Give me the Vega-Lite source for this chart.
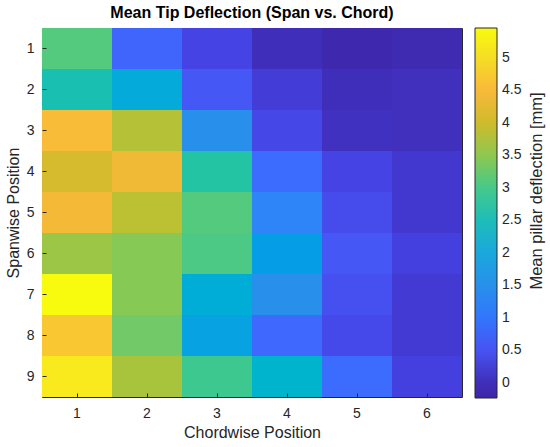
{
  "$schema": "https://vega.github.io/schema/vega-lite/v6.json",
  "autosize": {"type": "none"},
  "width": 420,
  "height": 369,
  "padding": {"left": 42, "top": 28, "right": 88, "bottom": 50},
  "background": "white",
  "title": {"text": "Mean Tip Deflection (Span vs. Chord)", "font": "Liberation Sans", "fontSize": 16, "fontWeight": "bold", "color": "#000000", "offset": 7},
  "config": {
    "view": {"stroke": "#262626", "strokeWidth": 1},
    "axis": {"labelFont": "Liberation Sans", "titleFont": "Liberation Sans", "labelFontSize": 14, "titleFontSize": 16, "titleFontWeight": "normal", "labelColor": "#262626", "titleColor": "#262626", "domain": false, "tickColor": "#262626", "tickSize": -4, "grid": false},
    "legend": {"labelFont": "Liberation Sans", "titleFont": "Liberation Sans"}
  },
  "data": {"values": [
    {"span": 1, "chord": 1, "d": 3.1}, {"span": 1, "chord": 2, "d": 0.75}, {"span": 1, "chord": 3, "d": 0.3}, {"span": 1, "chord": 4, "d": 0.0}, {"span": 1, "chord": 5, "d": -0.15}, {"span": 1, "chord": 6, "d": -0.1},
    {"span": 2, "chord": 1, "d": 2.6}, {"span": 2, "chord": 2, "d": 2.05}, {"span": 2, "chord": 3, "d": 0.55}, {"span": 2, "chord": 4, "d": 0.2}, {"span": 2, "chord": 5, "d": 0.0}, {"span": 2, "chord": 6, "d": 0.03},
    {"span": 3, "chord": 1, "d": 4.55}, {"span": 3, "chord": 2, "d": 3.8}, {"span": 3, "chord": 3, "d": 1.5}, {"span": 3, "chord": 4, "d": 0.35}, {"span": 3, "chord": 5, "d": 0.05}, {"span": 3, "chord": 6, "d": 0.03},
    {"span": 4, "chord": 1, "d": 4.1}, {"span": 4, "chord": 2, "d": 4.4}, {"span": 4, "chord": 3, "d": 2.75}, {"span": 4, "chord": 4, "d": 0.85}, {"span": 4, "chord": 5, "d": 0.3}, {"span": 4, "chord": 6, "d": 0.15},
    {"span": 5, "chord": 1, "d": 4.45}, {"span": 5, "chord": 2, "d": 3.85}, {"span": 5, "chord": 3, "d": 3.1}, {"span": 5, "chord": 4, "d": 1.25}, {"span": 5, "chord": 5, "d": 0.4}, {"span": 5, "chord": 6, "d": 0.15},
    {"span": 6, "chord": 1, "d": 3.6}, {"span": 6, "chord": 2, "d": 3.45}, {"span": 6, "chord": 3, "d": 3.05}, {"span": 6, "chord": 4, "d": 1.75}, {"span": 6, "chord": 5, "d": 0.55}, {"span": 6, "chord": 6, "d": 0.25},
    {"span": 7, "chord": 1, "d": 5.45}, {"span": 7, "chord": 2, "d": 3.45}, {"span": 7, "chord": 3, "d": 2.1}, {"span": 7, "chord": 4, "d": 1.5}, {"span": 7, "chord": 5, "d": 0.45}, {"span": 7, "chord": 6, "d": 0.18},
    {"span": 8, "chord": 1, "d": 4.7}, {"span": 8, "chord": 2, "d": 3.3}, {"span": 8, "chord": 3, "d": 1.85}, {"span": 8, "chord": 4, "d": 0.8}, {"span": 8, "chord": 5, "d": 0.38}, {"span": 8, "chord": 6, "d": 0.18},
    {"span": 9, "chord": 1, "d": 5.2}, {"span": 9, "chord": 2, "d": 3.7}, {"span": 9, "chord": 3, "d": 2.95}, {"span": 9, "chord": 4, "d": 2.25}, {"span": 9, "chord": 5, "d": 0.85}, {"span": 9, "chord": 6, "d": 0.25}
  ]},
  "mark": {"type": "rect", "strokeWidth": 0},
  "encoding": {
    "x": {"field": "chord", "type": "ordinal", "title": "Chordwise Position", "scale": {"paddingInner": 0, "paddingOuter": 0}, "axis": {"labelAngle": 0, "labelPadding": 13, "titlePadding": 4}},
    "y": {"field": "span", "type": "ordinal", "title": "Spanwise Position", "scale": {"paddingInner": 0, "paddingOuter": 0}, "axis": {"labelPadding": 12, "titlePadding": 5}},
    "color": {
      "field": "d", "type": "quantitative",
      "scale": {
        "domain": [-0.23, 0, 0.25, 0.5, 0.8, 1.25, 1.5, 2.0, 2.5, 3.0, 3.5, 4.0, 4.5, 5.0, 5.455],
        "range": ["#3e26a8", "#3f2eb9", "#443fdf", "#4753f3", "#3f69fe", "#2e85f8", "#2890eb", "#1aa8dc", "#1ebdb8", "#45c98a", "#8ec84f", "#cfbb2c", "#f9b93a", "#f5dd24", "#f9fb0e"]
      },
      "legend": {
        "type": "gradient",
        "title": "Mean pillar deflection [mm]",
        "titleOrient": "right", "titleFontSize": 16.5, "titleFontWeight": "normal", "titleColor": "#262626", "titleAnchor": "middle", "titlePadding": 8, "titleLimit": 400,
        "encode": {"title": {"update": {"angle": {"value": 270}, "baseline": {"value": "top"}, "dx": {"value": 22}}}},
        "gradientLength": 370, "gradientThickness": 22, "gradientStrokeColor": "#262626", "gradientStrokeWidth": 1,
        "values": [0, 0.5, 1, 1.5, 2, 2.5, 3, 3.5, 4, 4.5, 5],
        "format": ".1~f",
        "labelFontSize": 14, "labelColor": "#262626", "labelOverlap": false, "labelOffset": 5,
        "offset": 13, "direction": "vertical"
      }
    }
  }
}
